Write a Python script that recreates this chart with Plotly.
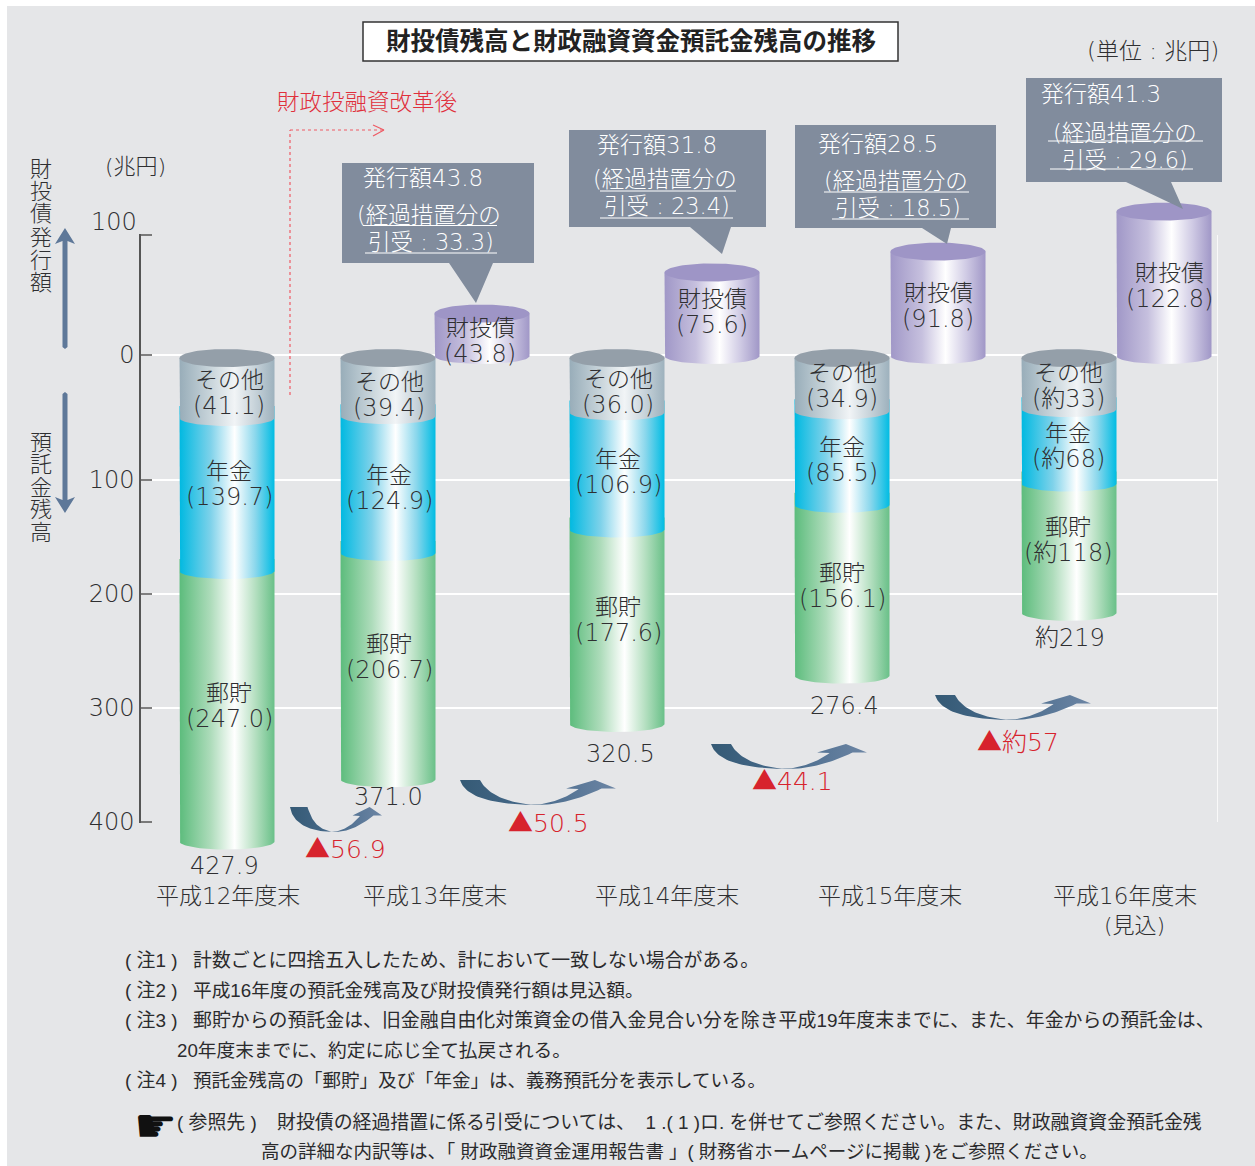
import numpy as np
import plotly.graph_objects as go

# ---- data (trillion yen) ----
fiscal_years = ["平成12年度末", "平成13年度末", "平成14年度末", "平成15年度末", "平成16年度末"]
other_deposits = [41.1, 39.4, 36.0, 34.9, 33]
pension_deposits = [139.7, 124.9, 106.9, 85.5, 68]
postal_deposits = [247.0, 206.7, 177.6, 156.1, 118]
deposit_totals = [427.9, 371.0, 320.5, 276.4, 219]
bond_balances = [43.8, 75.6, 91.8, 122.8]
bond_issuance = [43.8, 31.8, 28.5, 41.3]
transitional_underwriting = [33.3, 23.4, 18.5, 29.6]
year_changes = ["56.9", "50.5", "44.1", "約57"]

other_text = ["(41.1)", "(39.4)", "(36.0)", "(34.9)", "(約33)"]
pension_text = ["(139.7)", "(124.9)", "(106.9)", "(85.5)", "(約68)"]
postal_text = ["(247.0)", "(206.7)", "(177.6)", "(156.1)", "(約118)"]
total_text = ["427.9", "371.0", "320.5", "276.4", "約219"]

notes = [
    (125, 960, 18.9, "( 注1 )"), (193, 960, 18.9, "計数ごとに四捨五入したため、計において一致しない場合がある。"),
    (125, 990, 18.9, "( 注2 )"), (193, 990, 18.7, "平成16年度の預託金残高及び財投債発行額は見込額。"),
    (125, 1020, 18.9, "( 注3 )"), (193, 1020, 18.9, "郵貯からの預託金は、旧金融自由化対策資金の借入金見合い分を除き平成19年度末までに、また、年金からの預託金は、"),
    (177, 1050, 18.7, "20年度末までに、約定に応じ全て払戻される。"),
    (125, 1080, 18.9, "( 注4 )"), (193, 1080, 18.5, "預託金残高の「郵貯」及び「年金」は、義務預託分を表示している。"),
    (177, 1122, 18.9, "( 参照先 )"),
    (277, 1122, 18.9, "財投債の経過措置に係る引受については、\u00a0\u00a01\u00a0.(\u00a01\u00a0)ロ.\u00a0を併せてご参照ください。また、財政融資資金預託金残"),
    (261, 1151, 18.5, "高の詳細な内訳等は、「 財政融資資金運用報告書 」( 財務省ホームページに掲載 )をご参照ください。"),
]

# ---- page geometry ----
W, H = 1255, 1166
DEPOSIT_ZERO, DEPOSIT_SCALE = 373.0, 1.095  # pixel row of 0 and pixels per unit, deposits
BOND_ZERO, BOND_SCALE = 370.0, 1.29         # same for the bond balances
GRID_ZERO, GRID_SCALE = 366.0, 1.14         # same for the labelled scale
RX = 47.5
CAP_RY, ARC_RY = 9.0, 8.0
CAP_ROW = 358.0
BOND_BASE_ROW = 356.0

deposit_x = [227, 388, 617, 842, 1069]
bond_x = [482, 712, 938, 1164]
year_x = [228, 435, 667, 890, 1125]

INK = "#2f2f31"
FONT = "DejaVu Sans, Noto Sans CJK JP"
NOTE_FONT = "Liberation Sans, Noto Sans CJK JP"

px = lambda x: x / W
py = lambda y: 1 - y / H
dep_v = lambda row: (row - DEPOSIT_ZERO) / DEPOSIT_SCALE
bond_v = lambda row: (BOND_ZERO - row) / BOND_SCALE
grid_v = lambda row: (row - GRID_ZERO) / GRID_SCALE

GRAD = {
    "grey": ["#98adb9", "#c9d5db", "#f1f4f6", "#c6d2d9", "#9db1bd"],
    "blue": ["#00b9e1", "#7fd2ea", "#ffffff", "#8ad7ec", "#00bce3"],
    "green": ["#5cbc7c", "#aedcbb", "#ffffff", "#b4dfc0", "#69c088"],
    "purple": ["#a097c7", "#c6c0de", "#ffffff", "#cfcae4", "#a097c7"],
}


def gradient(name):
    stops = [0, 0.33, 0.58, 0.8, 1]
    return dict(type="horizontal", colorscale=list(zip(stops, GRAD[name])))


def arc(cx, row, ry, start, stop, n=40):
    t = np.linspace(start, stop, n)
    return cx + RX * np.cos(t), row + ry * np.sin(t)


def add_cylinder_part(fig, cx, top_row, bottom_row, name, to_value, yaxis):
    ax, ay = arc(cx, bottom_row, ARC_RY, np.pi, 0)
    xs = np.r_[cx - RX, ax, cx + RX, cx - RX]
    rows = np.r_[top_row, ay, top_row, top_row]
    fig.add_trace(go.Scatter(
        x=xs, y=to_value(rows), xaxis="x2", yaxis=yaxis, mode="lines", fill="toself",
        line=dict(width=0), fillgradient=gradient(name), hoverinfo="skip", showlegend=False))


def add_cap(fig, cx, row, colour, to_value, yaxis):
    ax, ay = arc(cx, row, CAP_RY, 0, 2 * np.pi, 80)
    fig.add_trace(go.Scatter(
        x=ax, y=to_value(ay), xaxis="x2", yaxis=yaxis, mode="lines", fill="toself",
        line=dict(width=0), fillcolor=colour, hoverinfo="skip", showlegend=False))


def bezier(p0, p1, p2, p3, n=30):
    t = np.linspace(0, 1, n)[:, None]
    p0, p1, p2, p3 = map(np.array, (p0, p1, p2, p3))
    return (1 - t) ** 3 * p0 + 3 * (1 - t) ** 2 * t * p1 + 3 * (1 - t) * t ** 2 * p2 + t ** 3 * p3


def add_swoosh(fig, x0, y0, w, h, inner):
    outline = np.vstack([
        bezier((0, 0), (0.03, 0.62), (0.18, 0.97), (0.47, 1.0)),
        bezier((0.47, 1.0), (0.65, 1.02), (0.80, 0.66), (0.908, 0.34)),
        [(1.0, 0.34), (0.865, 0.0), (0.68, 0.34), (0.76, 0.36)],
        bezier((0.76, 0.36), (0.68, 0.72), (0.58, 0.96), (0.47, 1.0)),
        bezier((0.47, 1.0), (0.32, 0.92), (inner + 0.05, 0.62), (inner, 0)),
        [(0, 0)],
    ])
    fig.add_trace(go.Scatter(
        x=x0 + outline[:, 0] * w, y=dep_v(y0 + outline[:, 1] * h), xaxis="x2", yaxis="y2",
        mode="lines", fill="toself", line=dict(width=0),
        fillgradient=dict(type="horizontal", colorscale=[[0, "#355a75"], [0.45, "#46698a"], [1, "#6c85a4"]]),
        hoverinfo="skip", showlegend=False))


tick_rows = [235, 355, 480, 594, 708, 822]
tick_pos = [grid_v(r) for r in tick_rows]
GRID_TOP_ROW, GRID_BOTTOM_ROW = 234, 823
TICK_STUB = 11 / 1077  # stub length as a share of the gridded width

fig = go.Figure()

# right-hand edge of the gridded area
fig.add_trace(go.Scatter(x=[1, 1], y=[tick_pos[-1], tick_pos[0]], xaxis="x", yaxis="y", mode="lines",
                         line=dict(color="#ffffff", width=1.5), hoverinfo="skip", showlegend=False,
                         cliponaxis=False))

# dark tick stubs on the left of each gridline
stub_x, stub_y = [], []
for pos in tick_pos:
    stub_x += [0, TICK_STUB, None]
    stub_y += [pos, pos, None]
fig.add_trace(go.Scatter(x=stub_x, y=stub_y, xaxis="x", yaxis="y", mode="lines",
                         line=dict(color="#555555", width=1.5), hoverinfo="skip", showlegend=False))

# deposit cylinders, lowest band first so each upper band sits over the one below
for i, cx in enumerate(deposit_x):
    first = other_deposits[i]
    second = first + pension_deposits[i]
    total = deposit_totals[i]
    row = lambda v: DEPOSIT_ZERO + DEPOSIT_SCALE * v
    add_cylinder_part(fig, cx, row(second) - 12, row(total), "green", dep_v, "y2")
    add_cylinder_part(fig, cx, row(first) - 12, row(second), "blue", dep_v, "y2")
    add_cylinder_part(fig, cx, CAP_ROW, row(first), "grey", dep_v, "y2")
    add_cap(fig, cx, CAP_ROW, "#949fa9", dep_v, "y2")

# bond cylinders
for cx, value in zip(bond_x, bond_balances):
    top = BOND_ZERO - BOND_SCALE * value
    add_cylinder_part(fig, cx, top, BOND_BASE_ROW, "purple", bond_v, "y3")
    add_cap(fig, cx, top, "#9e95c6", bond_v, "y3")

# year-on-year arrows
add_swoosh(fig, 290, 807, 92, 25, 0.19)
add_swoosh(fig, 460, 780, 156, 25, 0.128)
add_swoosh(fig, 711, 744, 156, 25, 0.128)
add_swoosh(fig, 935, 695, 156, 25, 0.128)

shapes = [
    dict(type="rect", xref="paper", yref="paper", x0=px(7), x1=1, y0=0, y1=py(6),
         fillcolor="#e5e6e8", line_width=0, layer="below"),
    dict(type="rect", xref="paper", yref="paper", x0=px(363), x1=px(898), y0=py(61), y1=py(22),
         fillcolor="#ffffff", line=dict(color="#333333", width=1.5), layer="below"),
]


def polygon(points, colour):
    path = "M" + "L".join(f"{px(x):.5f},{py(y):.5f}" for x, y in points) + "Z"
    return dict(type="path", xref="paper", yref="paper", path=path, fillcolor=colour, line_width=0, layer="above")


# scale direction arrows beside the vertical captions
arrow_col = "#5e7899"
shapes.append(polygon([(65, 228), (75, 244), (67.5, 241), (67.5, 347), (65, 349), (62.5, 347), (62.5, 241), (55, 244)], arrow_col))
shapes.append(polygon([(65, 513), (75, 497), (67.5, 500), (67.5, 394), (65, 392), (62.5, 394), (62.5, 500), (55, 497)], arrow_col))

# reform marker
red = "#e0303c"
for x0, y0, x1, y1, dash in [(290, 395, 290, 130, "3px,3px"), (290, 130, 384, 130, "3px,3px"),
                             (373, 125, 384, 130, "solid"), (373, 136, 384, 130, "solid")]:
    shapes.append(dict(type="line", xref="paper", yref="paper", x0=px(x0), y0=py(y0), x1=px(x1), y1=py(y1),
                       line=dict(color="#ef5a64", width=1.2, dash=dash), layer="above"))

# issuance callouts
box_col = "#818c9d"
callouts = [
    dict(box=(342, 163, 534, 263), tail=(449, 493, 476, 303), head=(423, 177), l1=(429, 214), l2=(431, 241),
         u1=(225.5, 363, 497), u2=(253, 365, 497)),
    dict(box=(569, 130, 766, 227), tail=(690, 731, 722, 254), head=(657, 144), l1=(665, 178), l2=(667, 205),
         u1=(191, 600, 736), u2=(218, 600, 733)),
    dict(box=(795, 125, 996, 228), tail=(922, 951, 947, 244), head=(878, 143), l1=(896, 180), l2=(898, 207),
         u1=(192, 824, 969), u2=(219, 832, 969)),
    dict(box=(1026, 78, 1222, 182), tail=(1126, 1171, 1183, 209), head=(1101, 93), l1=(1125, 132), l2=(1125, 159),
         u1=(141, 1048, 1203), u2=(169, 1050, 1193)),
]
for c in callouts:
    x0, y0, x1, y1 = c["box"]
    a, b, tx, ty = c["tail"]
    shapes.append(polygon([(x0, y0), (x1, y0), (x1, y1), (b, y1), (tx, ty), (a, y1), (x0, y1)], box_col))
    for row, left, right in (c["u1"], c["u2"]):
        shapes.append(dict(type="line", xref="paper", yref="paper", x0=px(left), x1=px(right), y0=py(row), y1=py(row),
                           line=dict(color="#ffffff", width=1), layer="above"))

annotations = []


def label(x, y, text, size=23, colour=INK, anchor="center", family=FONT, weight=300):
    annotations.append(dict(
        xref="paper", yref="paper", x=px(x), y=py(y + 1), text=text, showarrow=False, xanchor=anchor, yanchor="middle",
        font=dict(family=family, size=size, color=colour, weight=weight), borderpad=0, borderwidth=0))


label(631, 41, "財投債残高と財政融資資金預託金残高の推移", 24.5, "#222222", weight=700)
label(1153, 50, "(単位 : 兆円)", 23)
label(135, 165, "(兆円)", 22)
label(367, 101, "財政投融資改革後", 22.5, red)
label(137, 221, "100", 24, anchor="right")

for ch, y in zip("財投債発行額", (168, 191, 213, 236, 259, 282)):
    label(41, y, ch, 22)
for ch, y in zip("預託金残高", (441, 463, 486, 508, 531)):
    label(41, y, ch, 22)

band_rows = [
    (229, 379, 405, 470, 496, 692, 718, 224, 865),
    (389, 381, 407, 474, 500, 643, 669, 388, 796),
    (618, 378, 404, 458, 484, 606, 632, 620, 753),
    (842, 372, 398, 446, 472, 572, 598, 844, 705),
    (1068, 372, 398, 432, 458, 526, 552, 1070, 637),
]
for i, (cx, a, b, c, d, e, f, tx, ty) in enumerate(band_rows):
    label(cx, a, "その他")
    label(cx, b, other_text[i], 24)
    label(cx, c, "年金")
    label(cx, d, pension_text[i], 24)
    label(cx, e, "郵貯")
    label(cx, f, postal_text[i], 24)
    label(tx, ty, total_text[i], 24)

for value, cx, a, b in zip(bond_balances, (480, 712, 938, 1169), (327, 298, 292, 272), (353, 324, 318, 298)):
    label(cx, a, "財投債")
    label(cx, b, f"({value:.1f})", 24)

for c, issued, under in zip(callouts, bond_issuance, transitional_underwriting):
    label(*c["head"], f"発行額{issued:.1f}", 23, "#ffffff")
    label(*c["l1"], "(経過措置分の", 22.5, "#ffffff")
    label(*c["l2"], f"引受 : {under:.1f})", 22.5, "#ffffff")

for (x, y), change in zip([(345, 848), (548, 822), (792, 780), (1018, 742)], year_changes):
    label(x, y, "▲" + change, 25, "#d7232d")

for x, name in zip(year_x, fiscal_years):
    label(x, 895, name, 23)
label(1134, 924, "(見込)", 22)

for x, y, size, text in notes:
    label(x, y - 1, text, size, "#2b2b2d", anchor="left", family=NOTE_FONT, weight=400)
label(155, 1124, "☛", 48, "#111111", family="DejaVu Sans", weight=400)

fig.update_layout(
    width=W, height=H, margin=dict(l=0, r=0, t=0, b=0), autosize=False,
    paper_bgcolor="#ffffff", plot_bgcolor="rgba(0,0,0,0)", showlegend=False,
    shapes=shapes, annotations=annotations,
    font=dict(family=FONT, color=INK),
    # labelled scale and gridlines
    xaxis=dict(domain=[px(141), px(1218)], range=[0, 1], anchor="y", showticklabels=False, automargin=False,
               ticks="", showgrid=False, zeroline=False, showline=False),
    yaxis=dict(domain=[py(GRID_BOTTOM_ROW), py(GRID_TOP_ROW)], range=[grid_v(GRID_BOTTOM_ROW), grid_v(GRID_TOP_ROW)],
               anchor="x", automargin=False,
               tickmode="array", tickvals=tick_pos, ticktext=["", "0", "100", "200", "300", "400"],
               ticks="", tickfont=dict(family=FONT, size=24, color=INK, weight=300),
               showgrid=True, gridcolor="#ffffff", gridwidth=1.5, zeroline=False,
               showline=True, linecolor="#555555", linewidth=1.5),
    # page-wide axes carrying the cylinders
    xaxis2=dict(domain=[0, 1], range=[0, W], anchor="y2", visible=False, automargin=False),
    yaxis2=dict(domain=[0, 1], range=[dep_v(H), dep_v(0)], anchor="x2", visible=False, automargin=False),
    yaxis3=dict(domain=[0, 1], range=[bond_v(H), bond_v(0)], anchor="x2", overlaying="y2", visible=False, automargin=False),
)

fig.write_html("out.html")
